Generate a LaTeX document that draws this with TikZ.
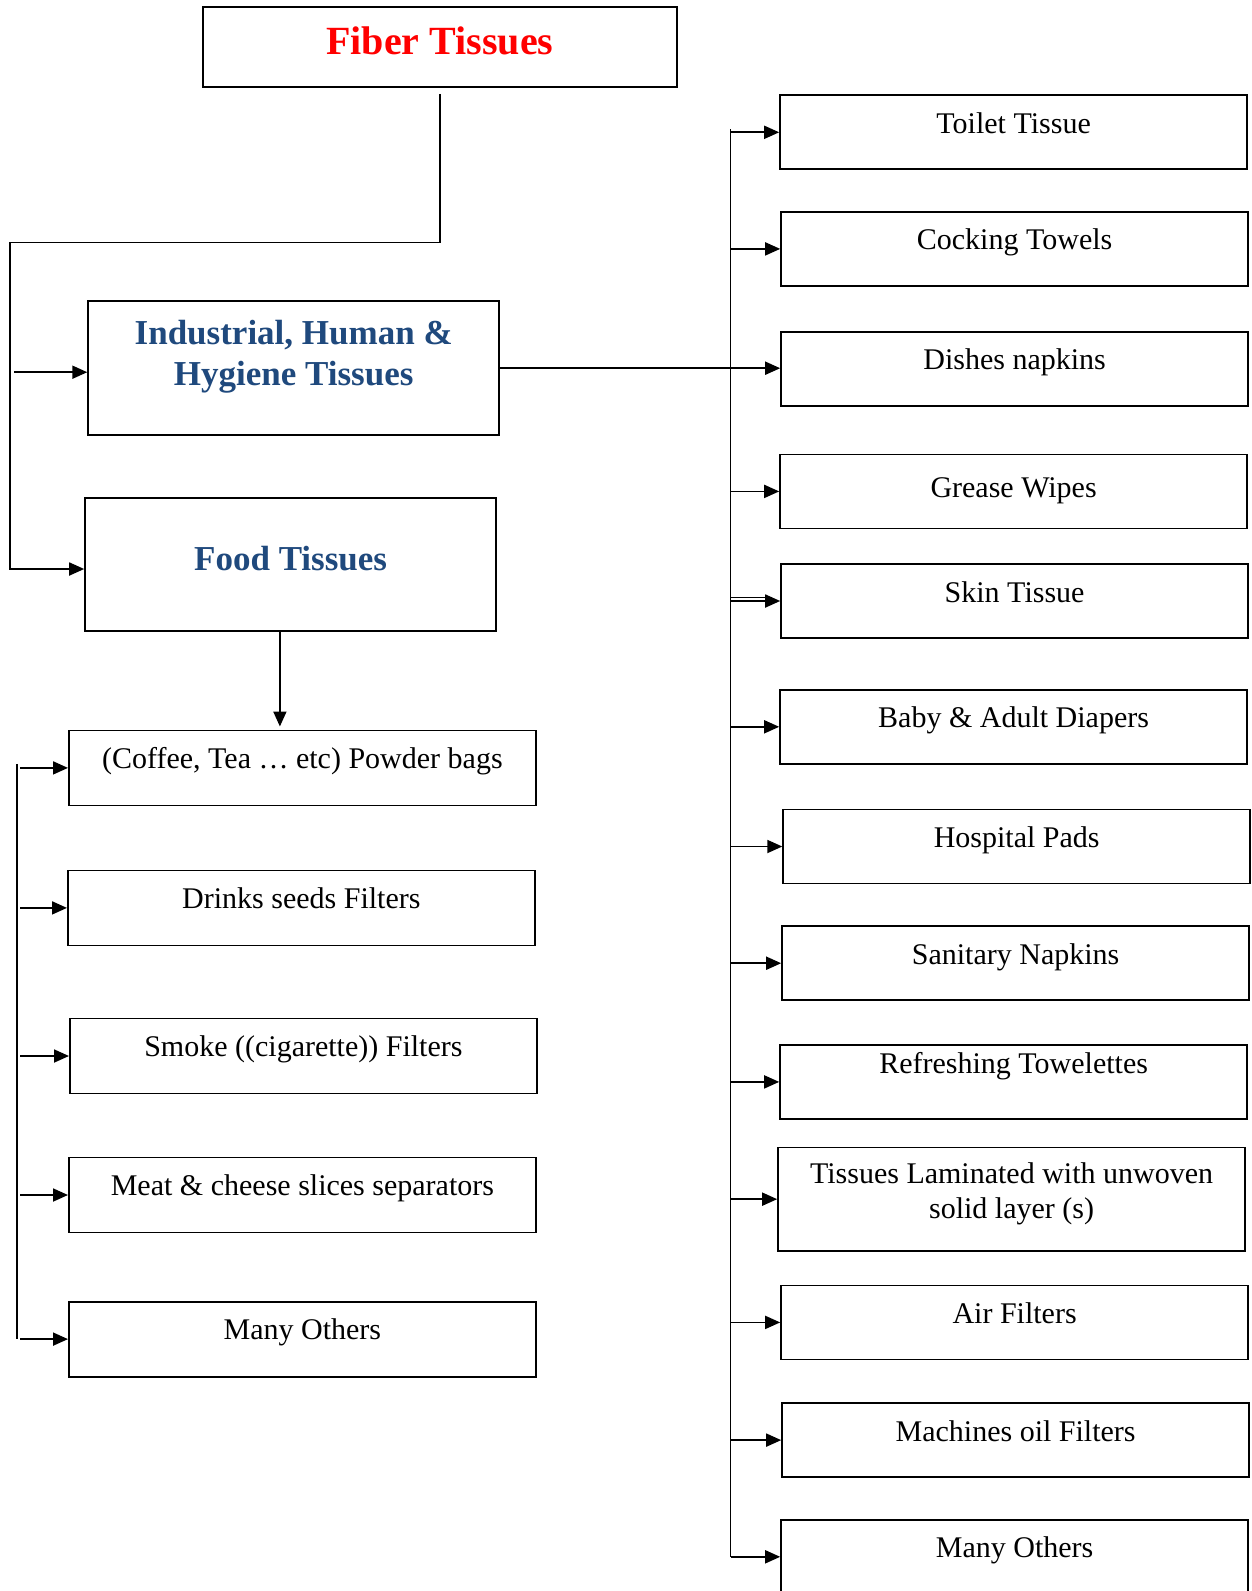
\documentclass[tikz,border=0pt]{standalone}
\usepackage{fontspec}
\setmainfont{Liberation Serif}
\usetikzlibrary{arrows.meta}
\definecolor{hdblue}{HTML}{1F497D}

\begin{document}
\begin{tikzpicture}[x=1pt,y=-1pt,
  box/.style={draw, line width=1.8pt, inner sep=0pt, anchor=north west,
    minimum width=467pt, minimum height=74pt, text height=38pt, text depth=36pt,
    font=\fontsize{30}{35.5}\selectfont},
  head/.style={box, text=hdblue, font=\fontsize{35}{41}\selectfont\bfseries},
  link/.style={line width=1.8pt},
  arr/.style={link, -{Triangle[length=15pt,width=13pt]}},
]
\path[use as bounding box, fill=white] (0,0) rectangle (1251,1591);

% top level and the two categories
\node[box, minimum width=474pt, minimum height=80pt, text height=47pt, text depth=33pt,
      text=red, font=\fontsize{40}{48}\selectfont\bfseries] (fiber) at (201.9,6.1) {Fiber Tissues};
\node[head, minimum width=411pt, minimum height=134pt, text height=43pt, text depth=91pt]
      (ind) at (87.3,300.3) {\begin{tabular}[t]{@{}c@{}}Industrial, Human \&\\Hygiene Tissues\end{tabular}};
\node[head, minimum width=411pt, minimum height=133pt, text height=72pt, text depth=61pt]
      (food) at (84.2,497.1) {Food Tissues};

% food tissue products
\node[box, minimum height=75pt, text depth=37pt] (coffee) at (68,729.5) {(Coffee, Tea … etc) Powder bags};
\node[box, minimum height=75pt, text depth=37pt] (drinks) at (67,869.5) {Drinks seeds Filters};
\node[box, minimum height=75pt, text depth=37pt] (smoke) at (69,1017.6) {Smoke ((cigarette)) Filters};
\node[box, minimum height=75pt, text depth=37pt] (meat) at (68,1156.6) {Meat \& cheese slices separators};
\node[box, minimum height=75pt, text depth=37pt] (othL) at (68,1300.7) {Many Others};

% industrial, human and hygiene products
\node[box] (toilet) at (779.2,94.4) {Toilet Tissue};
\node[box] (cock) at (780.2,211) {Cocking Towels};
\node[box] (dish) at (780.2,330.8) {Dishes napkins};
\node[box, text height=43pt, text depth=31pt] (grease) at (779.2,453.5) {Grease Wipes};
\node[box] (skin) at (780.2,563.1) {Skin Tissue};
\node[box] (baby) at (779.2,688.9) {Baby \& Adult Diapers};
\node[box] (hosp) at (782.3,808.6) {Hospital Pads};
\node[box] (sanit) at (781.2,925.3) {Sanitary Napkins};
\node[box, text height=29pt, text depth=45pt] (refr) at (779.2,1044) {Refreshing Towelettes};
\node[box, minimum height=103.5pt, text height=36pt, text depth=67.5pt] (lamin) at (777.2,1146.5)
      {\begin{tabular}[t]{@{}c@{}}Tissues Laminated with unwoven\\solid layer (s)\end{tabular}};
\node[box] (air) at (780.2,1284.5) {Air Filters};
\node[box] (mach) at (781.2,1402.2) {Machines oil Filters};
\node[box] (othR) at (780.2,1518.9) {Many Others};

% connectors from the top box
\coordinate (elbow) at (10.1,242.5);
\draw[arr] ([yshift=-6pt]fiber.south) |- (elbow) |- ([yshift=-4.5pt]food.west);
\draw[arr] ([xshift=4pt,yshift=-4pt]elbow |- ind.west) -- ([yshift=-4pt]ind.west);

% food branch
\draw[arr] ([xshift=-10.7pt]food.south) -- ([xshift=-10.7pt,yshift=3pt]food.south |- coffee.north);
\coordinate (ltrunk) at (17.2,0);
\draw[link] ([yshift=4pt]ltrunk |- coffee.west) -- (ltrunk |- othL.west);
\foreach \n in {coffee,drinks,smoke,meat,othL}
  \draw[arr] ([xshift=3pt]ltrunk |- \n.west) -- (\n.west);

% industrial branch
\coordinate (rtrunk) at (730.5,0);
\draw[link] ([yshift=3pt]rtrunk |- toilet.west) -- (rtrunk |- othR.west);
\draw[arr] (ind.east) -- (ind.east -| dish.west);
\foreach \n in {toilet,cock,grease,skin,baby,hosp,sanit,refr,lamin,air,mach,othR}
  \draw[arr] (rtrunk |- \n.west) -- (\n.west);
\draw[line width=1.1pt] ([yshift=3.8pt]rtrunk |- skin.west) -- ([xshift=-10pt,yshift=3.8pt]skin.west);
\end{tikzpicture}
\end{document}
